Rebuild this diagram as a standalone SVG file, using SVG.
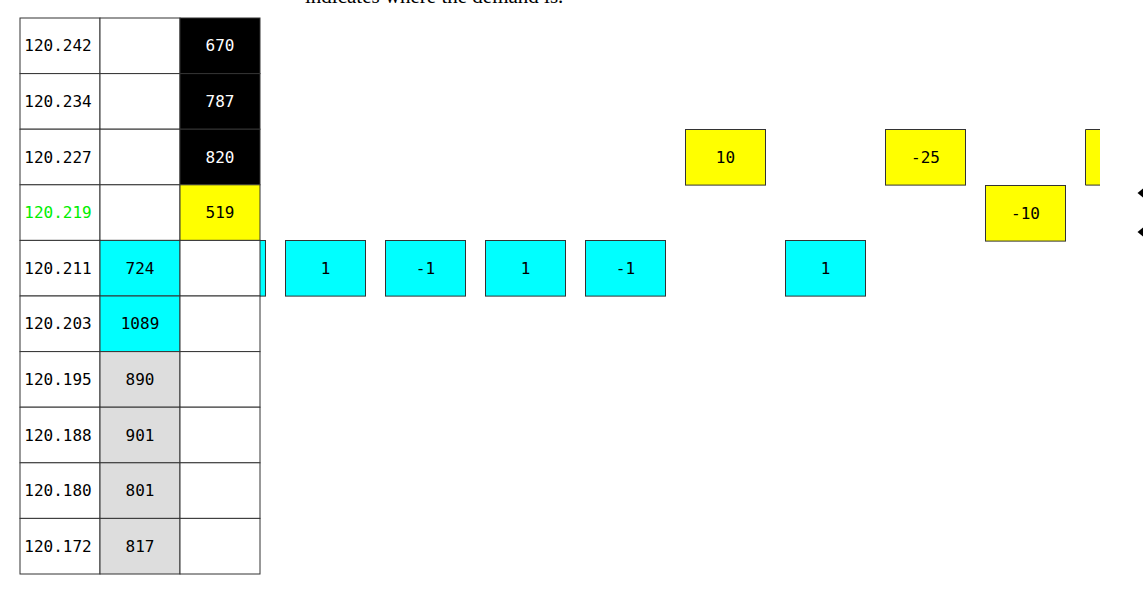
<svg xmlns="http://www.w3.org/2000/svg" width="1143" height="594" viewBox="0 0 1143 594">
<style>
  .t{font-family:"DejaVu Sans Mono","Liberation Mono",monospace;font-size:16px;text-anchor:middle;dominant-baseline:central;fill:#000}
  .w{fill:#fff}
  .g{fill:#00ee00}
  .cell{stroke:#333;stroke-width:1}
  .box{stroke:#333;stroke-width:1}
  .cy{fill:#00ffff}
  .ye{fill:#ffff00}
  .bk{fill:#000}
  .gr{fill:#dddddd}
  .wh{fill:#fff}
</style>
<rect width="1143" height="594" fill="#fff"/>
<text x="305" y="2.5" font-family="Liberation Serif,serif" font-size="21" fill="#000">indicates where the demand is.</text>

<!-- cyan box partly behind table column -->
<g id="box-0"><rect class="box cy" x="185.5" y="240.5" width="80" height="55.6"/></g>

<g id="table">
  <g id="row-0">
    <rect class="cell wh" x="20" y="18" width="80" height="55.6"/><text class="t" x="58" y="45.8">120.242</text>
    <rect class="cell wh" x="100" y="18" width="80" height="55.6"/>
    <rect class="cell bk" x="180" y="18" width="80" height="55.6"/><text class="t w" x="220" y="45.8">670</text>
  </g>
  <g id="row-1">
    <rect class="cell wh" x="20" y="73.6" width="80" height="55.6"/><text class="t" x="58" y="101.4">120.234</text>
    <rect class="cell wh" x="100" y="73.6" width="80" height="55.6"/>
    <rect class="cell bk" x="180" y="73.6" width="80" height="55.6"/><text class="t w" x="220" y="101.4">787</text>
  </g>
  <g id="row-2">
    <rect class="cell wh" x="20" y="129.2" width="80" height="55.6"/><text class="t" x="58" y="157">120.227</text>
    <rect class="cell wh" x="100" y="129.2" width="80" height="55.6"/>
    <rect class="cell bk" x="180" y="129.2" width="80" height="55.6"/><text class="t w" x="220" y="157">820</text>
  </g>
  <g id="row-3">
    <rect class="cell wh" x="20" y="184.8" width="80" height="55.6"/><text class="t g" x="58" y="212.6">120.219</text>
    <rect class="cell wh" x="100" y="184.8" width="80" height="55.6"/>
    <rect class="cell ye" x="180" y="184.8" width="80" height="55.6"/><text class="t" x="220" y="212.6">519</text>
  </g>
  <g id="row-4">
    <rect class="cell wh" x="20" y="240.4" width="80" height="55.6"/><text class="t" x="58" y="268.2">120.211</text>
    <rect class="cell cy" x="100" y="240.4" width="80" height="55.6"/><text class="t" x="140" y="268.2">724</text>
    <rect class="cell wh" x="180" y="240.4" width="80" height="55.6"/>
  </g>
  <g id="row-5">
    <rect class="cell wh" x="20" y="296" width="80" height="55.6"/><text class="t" x="58" y="323.8">120.203</text>
    <rect class="cell cy" x="100" y="296" width="80" height="55.6"/><text class="t" x="140" y="323.8">1089</text>
    <rect class="cell wh" x="180" y="296" width="80" height="55.6"/>
  </g>
  <g id="row-6">
    <rect class="cell wh" x="20" y="351.6" width="80" height="55.6"/><text class="t" x="58" y="379.4">120.195</text>
    <rect class="cell gr" x="100" y="351.6" width="80" height="55.6"/><text class="t" x="140" y="379.4">890</text>
    <rect class="cell wh" x="180" y="351.6" width="80" height="55.6"/>
  </g>
  <g id="row-7">
    <rect class="cell wh" x="20" y="407.2" width="80" height="55.6"/><text class="t" x="58" y="435">120.188</text>
    <rect class="cell gr" x="100" y="407.2" width="80" height="55.6"/><text class="t" x="140" y="435">901</text>
    <rect class="cell wh" x="180" y="407.2" width="80" height="55.6"/>
  </g>
  <g id="row-8">
    <rect class="cell wh" x="20" y="462.8" width="80" height="55.6"/><text class="t" x="58" y="490.6">120.180</text>
    <rect class="cell gr" x="100" y="462.8" width="80" height="55.6"/><text class="t" x="140" y="490.6">801</text>
    <rect class="cell wh" x="180" y="462.8" width="80" height="55.6"/>
  </g>
  <g id="row-9">
    <rect class="cell wh" x="20" y="518.4" width="80" height="55.6"/><text class="t" x="58" y="546.2">120.172</text>
    <rect class="cell gr" x="100" y="518.4" width="80" height="55.6"/><text class="t" x="140" y="546.2">817</text>
    <rect class="cell wh" x="180" y="518.4" width="80" height="55.6"/>
  </g>
</g>

<g id="box-1"><rect class="box cy" x="285.5" y="240.5" width="80" height="55.6"/><text class="t" x="325.5" y="268.3">1</text></g>
<g id="box-2"><rect class="box cy" x="385.5" y="240.5" width="80" height="55.6"/><text class="t" x="425.5" y="268.3">-1</text></g>
<g id="box-3"><rect class="box cy" x="485.5" y="240.5" width="80" height="55.6"/><text class="t" x="525.5" y="268.3">1</text></g>
<g id="box-4"><rect class="box cy" x="585.5" y="240.5" width="80" height="55.6"/><text class="t" x="625.5" y="268.3">-1</text></g>
<g id="box-5"><rect class="box ye" x="685.5" y="129.5" width="80" height="55.6"/><text class="t" x="725.5" y="157.3">10</text></g>
<g id="box-6"><rect class="box cy" x="785.5" y="240.5" width="80" height="55.6"/><text class="t" x="825.5" y="268.3">1</text></g>
<g id="box-7"><rect class="box ye" x="885.5" y="129.5" width="80" height="55.6"/><text class="t" x="925.5" y="157.3">-25</text></g>
<g id="box-8"><rect class="box ye" x="985.5" y="185.5" width="80" height="55.6"/><text class="t" x="1025.5" y="213.3">-10</text></g>
<g id="box-9">
  <rect class="ye" x="1085.5" y="129.5" width="14.5" height="55.6"/>
  <path d="M1100,129.5 H1085.5 V185.1 H1100" fill="none" stroke="#333" stroke-width="1"/>
</g>

<g id="connectors">
  <path d="M1137.5,193 L1143,188.5 L1143,197.5 Z" fill="#000"/>
  <path d="M1137.5,232 L1143,227.5 L1143,236.5 Z" fill="#000"/>
</g>
</svg>
